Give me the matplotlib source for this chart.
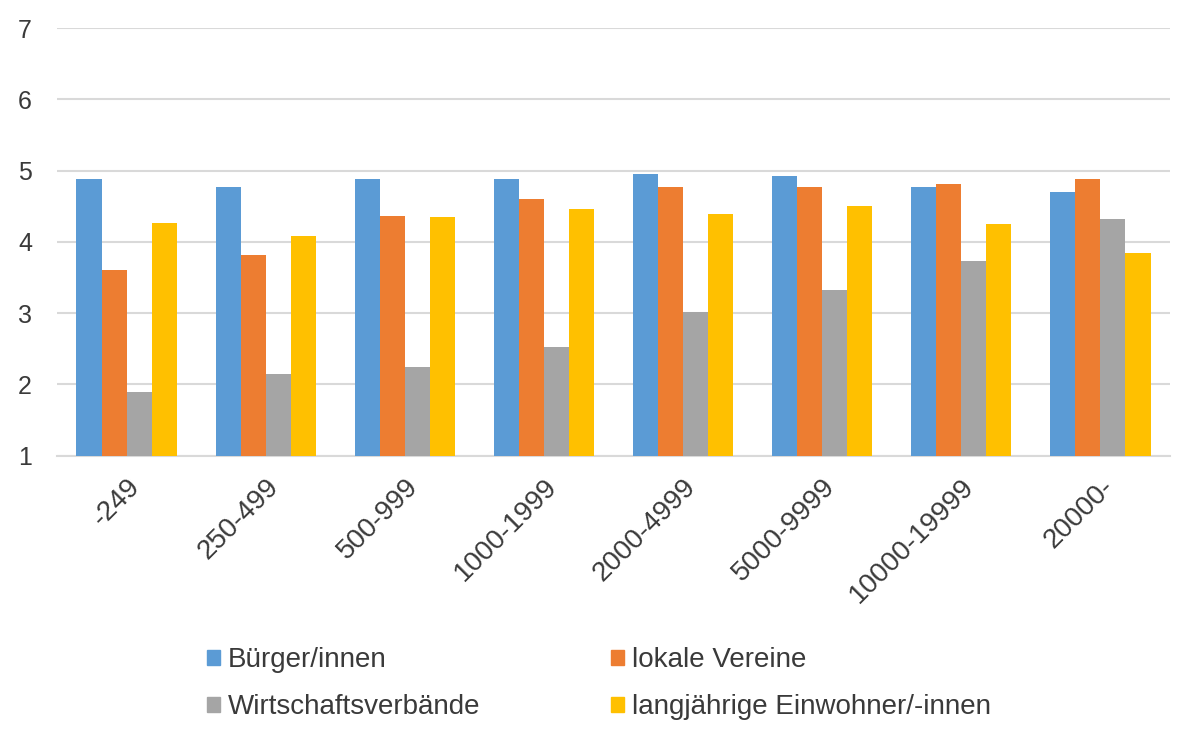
import numpy as np
import matplotlib.pyplot as plt
from matplotlib.patches import Patch

plt.rcParams['font.family'] = ['Liberation Sans', 'DejaVu Sans']

# Gemeindegrößenklassen
groessen = ['-249', '250-499', '500-999', '1000-1999', '2000-4999',
            '5000-9999', '10000-19999', '20000-']
buerger = [4.88, 4.77, 4.88, 4.88, 4.95, 4.92, 4.77, 4.70]
vereine = [3.60, 3.81, 4.36, 4.60, 4.77, 4.77, 4.81, 4.88]
wirtschaft = [1.90, 2.15, 2.25, 2.52, 3.01, 3.32, 3.73, 4.32]
einwohner = [4.26, 4.09, 4.35, 4.46, 4.39, 4.50, 4.25, 3.84]

serien = ['Bürger/innen', 'lokale Vereine', 'Wirtschaftsverbände',
          'langjährige Einwohner/-innen']
farben = ['#5B9BD5', '#ED7D31', '#A5A5A5', '#FFC000']
textfarbe = '#3A3A3A'

fig = plt.figure(figsize=(12, 7.41), dpi=100)
ax = fig.add_axes([0.0475, 0.385, 0.9275, 0.577])

x = np.arange(len(groessen))
w = 0.18
daten = [buerger, vereine, wirtschaft, einwohner]
for i, werte in enumerate(daten):
    ax.bar(x + (i - 1.5) * w, np.array(werte) - 1, width=w, bottom=1,
           color=farben[i], zorder=3)

ax.set_xlim(-0.5, len(groessen) - 0.5)
ax.set_ylim(1, 7)
ax.set_yticks(range(1, 8))
ax.yaxis.grid(True, color='#D9D9D9', linewidth=1.5, zorder=0)
for s in ['top', 'right', 'left']:
    ax.spines[s].set_visible(False)
ax.spines['bottom'].set_color('#D9D9D9')
ax.spines['bottom'].set_linewidth(1.5)
ax.tick_params(axis='both', length=0, colors=textfarbe)
ax.tick_params(axis='y', labelsize=18, pad=18)
ax.set_xticks(x)
ax.set_xticklabels(groessen, rotation=45, ha='right', rotation_mode='anchor',
                   fontsize=20)
ax.tick_params(axis='x', pad=13)

# Legende zeilenweise anordnen
handles = [Patch(color=f) for f in farben]
reihenfolge = [0, 2, 1, 3]
fig.legend([handles[i] for i in reihenfolge], [serien[i] for i in reihenfolge],
           ncol=2, loc='upper left', bbox_to_anchor=(0.152, 0.160),
           frameon=False, fontsize=20, labelcolor=textfarbe,
           handlelength=0.45, handleheight=0.45, handletextpad=0.3,
           columnspacing=4.7, labelspacing=0.75)

plt.savefig('out.png', dpi=100)
